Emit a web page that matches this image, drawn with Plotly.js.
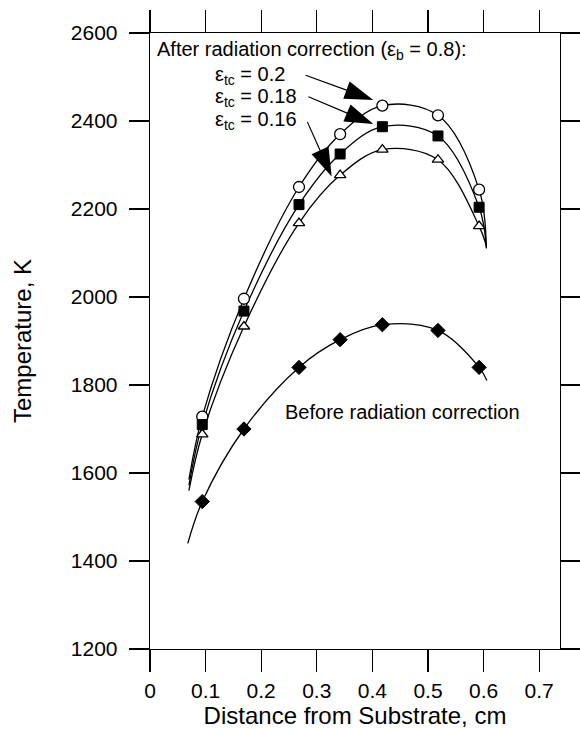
<!DOCTYPE html>
<html>
<head>
<meta charset="utf-8">
<script src="https://cdn.plot.ly/plotly-3.0.1.min.js"></script>
<style>html,body{margin:0;padding:0;background:#fff;}#chart{width:580px;height:729px;}</style>
</head>
<body>
<div id="chart"></div>
<script>
// Measured x positions (cm)
const xPts = [0.094, 0.169, 0.268, 0.342, 0.418, 0.518, 0.592];
// Temperatures (K)
const tBefore = [1535, 1700, 1840, 1903, 1937, 1924, 1840];
const tEps020 = [1728, 1996, 2250, 2370, 2435, 2413, 2244];
const tEps018 = [1710, 1968, 2210, 2325, 2387, 2366, 2204];
const tEps016 = [1688, 1933, 2168, 2277, 2335, 2312, 2161];
// Fitted-curve extensions beyond the data (start / end)
const fitStartX = [0.068, 0.070, 0.070, 0.070];
const fitStartT = [1440, 1585, 1572, 1560];
const fitEndX = [0.606, 0.605, 0.605, 0.605];
const fitEndT = [1810, 2110, 2113, 2117];
// Tick labels
const xTickVals = [0, 0.1, 0.2, 0.3, 0.4, 0.5, 0.6, 0.7];
const xTickText = ['0', '0.1', '0.2', '0.3', '0.4', '0.5', '0.6', '0.7'];
const yTickVals = [1200, 1400, 1600, 1800, 2000, 2200, 2400, 2600];
// Label arrows (tail -> tip), data coordinates
const arrowTailX = [0.280, 0.285, 0.283];
const arrowTailT = [2504, 2455, 2398];
const arrowTipX = [0.4016, 0.4016, 0.3268];
const arrowTipT = [2448, 2393, 2274];

const series = [tBefore, tEps020, tEps018, tEps016];
const FONT = '"Liberation Sans", Arial, Helvetica, sans-serif';

const traces = [];
series.forEach((t, i) => {
  traces.push({
    x: [fitStartX[i]].concat(xPts, [fitEndX[i]]),
    y: [fitStartT[i]].concat(t, [fitEndT[i]]),
    mode: 'lines', type: 'scatter',
    line: {color: '#000', width: 1.3, shape: 'spline', smoothing: 1},
    hoverinfo: 'skip', showlegend: false
  });
});
const markerStyles = [
  {symbol: 'diamond', color: '#000', size: 11, line: {color: '#000', width: 1}},
  {symbol: 'circle', color: '#fff', size: 11, line: {color: '#000', width: 1.3}},
  {symbol: 'square', color: '#000', size: 10, line: {color: '#000', width: 1}},
  {symbol: 'triangle-up', color: '#fff', size: 10, line: {color: '#000', width: 1.3}}
];
series.forEach((t, i) => {
  traces.push({
    x: xPts, y: t, mode: 'markers', type: 'scatter',
    marker: markerStyles[i], showlegend: false
  });
});
arrowTipX.forEach((tx, i) => {
  traces.push({
    x: [arrowTailX[i], tx], y: [arrowTailT[i], arrowTipT[i]],
    mode: 'lines+markers', type: 'scatter',
    line: {color: '#000', width: 1.2},
    marker: {symbol: ['circle', 'arrow'], size: [0, 30], color: '#000', opacity: 1,
             angleref: 'previous', line: {width: 0}},
    showlegend: false, hoverinfo: 'skip'
  });
});

const axisCommon = {
  showline: true, linecolor: '#000', linewidth: 1.3, mirror: 'ticks',
  ticks: 'outside', tickcolor: '#000', tickwidth: 1.3,
  showgrid: false, zeroline: false,
  tickfont: {family: FONT, size: 21, color: '#000'}
};

const annFont = {family: FONT, size: 20, color: '#000'};
const layout = {
  width: 580, height: 729,
  margin: {l: 150, r: 20, t: 33, b: 80},
  paper_bgcolor: '#fff', plot_bgcolor: '#fff',
  xaxis: Object.assign({}, axisCommon, {
    range: [0, 0.7375], tickvals: xTickVals, ticktext: xTickText, ticklen: 22,
    title: {text: 'Distance from Substrate, cm', font: {family: FONT, size: 24, color: '#000'}, standoff: 8}
  }),
  yaxis: Object.assign({}, axisCommon, {
    range: [1200, 2600], tickvals: yTickVals, ticklen: 20, ticklabelstandoff: 7,
    title: {text: 'Temperature, K', font: {family: FONT, size: 24, color: '#000'}, standoff: 32}
  }),
  annotations: [
    {x: 0.009, y: 2561, xref: 'x', yref: 'y', xanchor: 'left', yanchor: 'middle', showarrow: false,
     text: 'After radiation correction (ε<sub>b</sub> = 0.8):', font: annFont},
    {x: 0.113, y: 2504, xref: 'x', yref: 'y', xanchor: 'left', yanchor: 'middle', showarrow: false,
     text: 'ε<sub>tc</sub> = 0.2', font: annFont},
    {x: 0.113, y: 2454, xref: 'x', yref: 'y', xanchor: 'left', yanchor: 'middle', showarrow: false,
     text: 'ε<sub>tc</sub> = 0.18', font: annFont},
    {x: 0.113, y: 2402, xref: 'x', yref: 'y', xanchor: 'left', yanchor: 'middle', showarrow: false,
     text: 'ε<sub>tc</sub> = 0.16', font: annFont},
    {x: 0.455, y: 1739, xref: 'x', yref: 'y', xanchor: 'center', yanchor: 'middle', showarrow: false,
     text: 'Before radiation correction', font: annFont}
  ]
};

Plotly.newPlot('chart', traces, layout, {displayModeBar: false, staticPlot: true});
</script>
</body>
</html>
